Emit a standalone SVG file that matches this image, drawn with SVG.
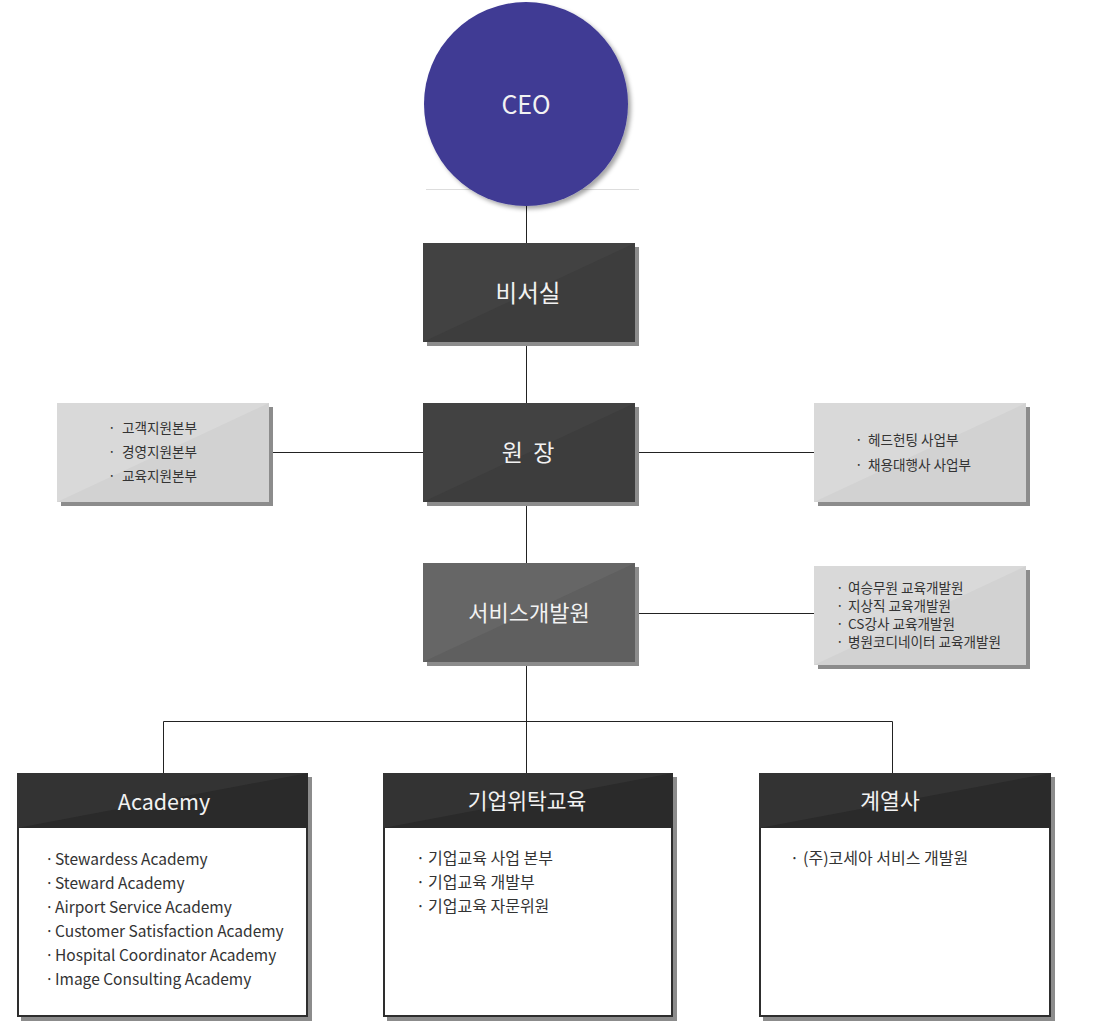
<svg xmlns="http://www.w3.org/2000/svg" width="1100" height="1025" viewBox="0 0 1100 1025">
<defs>
<filter id="cs" x="-20%" y="-20%" width="150%" height="150%"><feDropShadow dx="3" dy="3" stdDeviation="2" flood-color="#000" flood-opacity="0.35"/></filter>
<style>
text{font-family:"Noto Sans CJK KR","Noto Sans",sans-serif}
.sh{fill:#8c8c8c}
.t{fill:#f2f2f2;text-anchor:middle;dominant-baseline:central}
.s{fill:#333;font-size:13.6px;dominant-baseline:central}
.i{fill:#333;font-size:15.5px;dominant-baseline:central}
.k{fill:#333;font-size:16px;dominant-baseline:central}
.ln{stroke:#222;stroke-width:1;fill:none}
</style>
</defs>
<rect width="1100" height="1025" fill="#fff"/>
<line x1="426" y1="189.5" x2="639" y2="189.5" stroke="#ddd" stroke-width="1"/>
<g id="connectors" class="ln">
<path d="M526.5 206V243M526.5 342V403M526.5 502V563M526.5 662V721M269 452.5H423M635 452.5H814M635 613.5H814M163.5 773V721.5H892.5V773M526.5 721V773"/>
</g>
<g id="ceo">
<circle cx="526" cy="104" r="102" fill="#3f3a94" filter="url(#cs)"/>
<text x="526" y="103" class="t" font-size="25" fill="#fff">CEO</text>
</g>
<g id="secretary">
<rect x="427" y="247" width="212" height="99" class="sh"/>
<rect x="423" y="243" width="212" height="99" fill="#424242"/>
<path d="M423 342L635 243V342Z" fill="#3d3d3d"/>
<text x="528" y="292" class="t" font-size="23.5">비서실</text>
</g>
<g id="director">
<rect x="427" y="407" width="212" height="99" class="sh"/>
<rect x="423" y="403" width="212" height="99" fill="#424242"/>
<path d="M423 502L635 403V502Z" fill="#3d3d3d"/>
<text x="528" y="451" class="t" font-size="23" xml:space="preserve">원  장</text>
</g>
<g id="service">
<rect x="427" y="567" width="212" height="99" class="sh"/>
<rect x="423" y="563" width="212" height="99" fill="#666"/>
<path d="M423 662L635 563V662Z" fill="#5f5f5f"/>
<text x="529" y="611" class="t" font-size="22">서비스개발원</text>
</g>
<g id="left-support">
<rect x="61" y="407" width="212" height="99" class="sh"/>
<rect x="57" y="403" width="212" height="99" fill="#d9d9d9"/>
<path d="M57 502L269 403V502Z" fill="#d2d2d2"/>
<text x="108" y="427" class="s">·</text><text x="122" y="427" class="s">고객지원본부</text>
<text x="108" y="451" class="s">·</text><text x="122" y="451" class="s">경영지원본부</text>
<text x="108" y="475" class="s">·</text><text x="122" y="475" class="s">교육지원본부</text>
</g>
<g id="right-business">
<rect x="818" y="407" width="212" height="99" class="sh"/>
<rect x="814" y="403" width="212" height="99" fill="#d9d9d9"/>
<path d="M814 502L1026 403V502Z" fill="#d2d2d2"/>
<text x="855" y="439" class="s">·</text><text x="868" y="439" class="s">헤드헌팅 사업부</text>
<text x="855" y="464" class="s">·</text><text x="868" y="464" class="s">채용대행사 사업부</text>
</g>
<g id="right-edu">
<rect x="818" y="570" width="212" height="99" class="sh"/>
<rect x="814" y="566" width="212" height="99" fill="#d9d9d9"/>
<path d="M814 665L1026 566V665Z" fill="#d2d2d2"/>
<text x="836" y="587" class="s">·</text><text x="848" y="587" class="s">여승무원 교육개발원</text>
<text x="836" y="605" class="s">·</text><text x="848" y="605" class="s">지상직 교육개발원</text>
<text x="836" y="623" class="s">·</text><text x="848" y="623" class="s">CS강사 교육개발원</text>
<text x="836" y="641" class="s">·</text><text x="848" y="641" class="s">병원코디네이터 교육개발원</text>
</g>
<g id="academy">
<rect x="21" y="777" width="291" height="244" class="sh"/>
<rect x="18" y="774" width="289" height="242" fill="#fff" stroke="#2e2e2e" stroke-width="2"/>
<rect x="17" y="773" width="291" height="55" fill="#2a2a2a"/>
<path d="M17 773H308L17 828Z" fill="#333"/>
<text x="164" y="800" class="t" font-size="21.5">Academy</text>
<text x="45" y="858" class="i">·</text><text x="55" y="858" class="i">Stewardess Academy</text>
<text x="45" y="882" class="i">·</text><text x="55" y="882" class="i">Steward Academy</text>
<text x="45" y="906" class="i">·</text><text x="55" y="906" class="i">Airport Service Academy</text>
<text x="45" y="930" class="i">·</text><text x="55" y="930" class="i">Customer Satisfaction Academy</text>
<text x="45" y="954" class="i">·</text><text x="55" y="954" class="i">Hospital Coordinator Academy</text>
<text x="45" y="978" class="i">·</text><text x="55" y="978" class="i">Image Consulting Academy</text>
</g>
<g id="corporate">
<rect x="387" y="777" width="290" height="244" class="sh"/>
<rect x="384" y="774" width="288" height="242" fill="#fff" stroke="#2e2e2e" stroke-width="2"/>
<rect x="383" y="773" width="290" height="55" fill="#2a2a2a"/>
<path d="M383 773H673L383 828Z" fill="#333"/>
<text x="527" y="799" class="t" font-size="21.5">기업위탁교육</text>
<text x="416" y="857" class="k">·</text><text x="428" y="857" class="k">기업교육 사업 본부</text>
<text x="416" y="881" class="k">·</text><text x="428" y="881" class="k">기업교육 개발부</text>
<text x="416" y="905" class="k">·</text><text x="428" y="905" class="k">기업교육 자문위원</text>
</g>
<g id="affiliate">
<rect x="763" y="777" width="292" height="244" class="sh"/>
<rect x="760" y="774" width="290" height="242" fill="#fff" stroke="#2e2e2e" stroke-width="2"/>
<rect x="759" y="773" width="292" height="55" fill="#2a2a2a"/>
<path d="M759 773H1051L759 828Z" fill="#333"/>
<text x="890" y="799" class="t" font-size="21.5">계열사</text>
<text x="790" y="857" class="k">·</text><text x="803" y="857" class="k">(주)코세아 서비스 개발원</text>
</g>
</svg>
